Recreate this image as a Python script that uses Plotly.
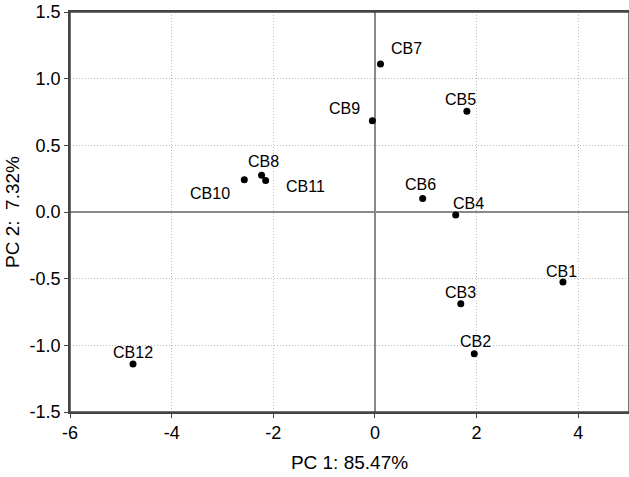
import plotly.graph_objects as go

labels = ["CB1", "CB2", "CB3", "CB4", "CB5", "CB6", "CB7", "CB8", "CB9", "CB10", "CB11", "CB12"]
pc1 = [3.70, 1.955, 1.69, 1.59, 1.81, 0.94, 0.11, -2.23, -0.05, -2.57, -2.15, -4.76]
pc2 = [-0.525, -1.063, -0.688, -0.023, 0.755, 0.102, 1.11, 0.275, 0.685, 0.242, 0.237, -1.14]

x_ticks = [-6, -4, -2, 0, 2, 4]
x_ticktext = ["-6", "-4", "-2", "0", "2", "4"]
y_ticks = [-1.5, -1.0, -0.5, 0.0, 0.5, 1.0, 1.5]
y_ticktext = ["-1.5", "-1.0", "-0.5", "0.0", "0.5", "1.0", "1.5"]

# label offsets in pixels (style)
offsets = {
    "CB1": (-1, 11), "CB2": (1, 12), "CB3": (0, 11), "CB4": (13, 12),
    "CB5": (-6, 12), "CB6": (-2, 14), "CB7": (26, 16), "CB8": (2, 14),
    "CB9": (-28, 12), "CB10": (-34, -14), "CB11": (40, -6), "CB12": (0, 12),
}

FONT = "Liberation Sans, Arial, sans-serif"

fig = go.Figure()
fig.add_trace(go.Scatter(
    x=pc1, y=pc2, mode="markers",
    marker=dict(color="black", size=7),
    hoverinfo="skip", showlegend=False,
))

for lab, x, y in zip(labels, pc1, pc2):
    dx, dy = offsets[lab]
    fig.add_annotation(x=x, y=y, text=lab, showarrow=False,
                       xshift=dx, yshift=dy,
                       font=dict(family=FONT, size=16, color="black"))

axis_common = dict(
    showgrid=True, gridcolor="#bdbdbd", griddash="1px,2px", gridwidth=1,
    zeroline=True, zerolinecolor="#8a8a8a", zerolinewidth=1.5,
    showline=True, linecolor="#444444", linewidth=1.5, mirror=True,
    ticks="outside", ticklen=4, tickcolor="#444444",
    ticklabeloverflow="allow",
    tickfont=dict(family=FONT, size=18, color="black"),
    automargin=False,
)

fig.update_xaxes(range=[-6, 5], tickvals=x_ticks, ticktext=x_ticktext,
                 title=dict(text="PC 1: 85.47%", standoff=13,
                            font=dict(family=FONT, size=19, color="black")),
                 **axis_common)
fig.update_yaxes(range=[-1.5, 1.5], tickvals=y_ticks, ticktext=y_ticktext,
                 title=dict(text="PC 2:  7.32%", standoff=5,
                            font=dict(family=FONT, size=19, color="black")),
                 **axis_common)

# plot frame
fig.add_shape(type="rect", xref="paper", yref="paper", x0=0, x1=1, y0=0, y1=1,
              line=dict(color="#444444", width=1.5), layer="above")

fig.update_layout(
    width=629, height=477,
    margin=dict(l=70, r=0, t=12, b=65, autoexpand=False),
    paper_bgcolor="white", plot_bgcolor="white",
)

fig.write_html("out.html", config={"displayModeBar": False},
               post_script="document.body.style.margin='0';")
